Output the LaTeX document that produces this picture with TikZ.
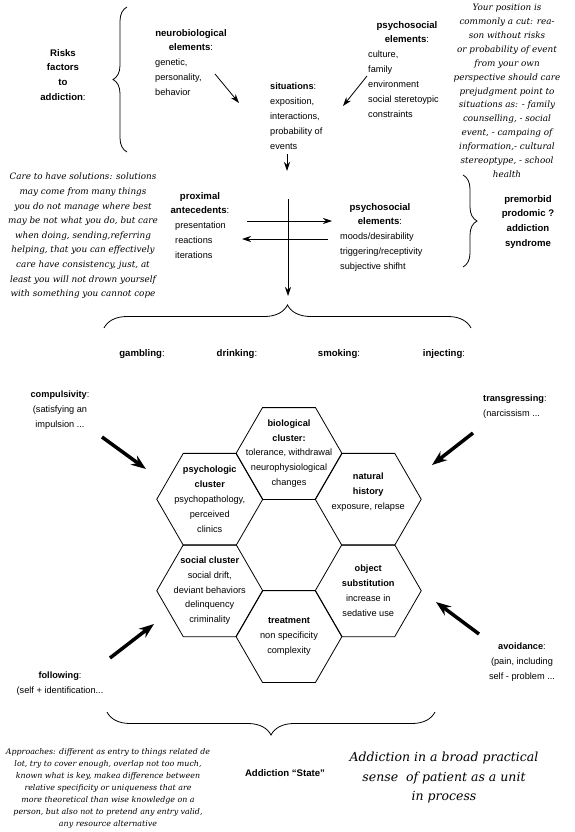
\documentclass[tikz,border=0pt]{standalone}
\usepackage{fontspec}
\setmainfont{Liberation Sans}
\newfontfamily\notefont{DejaVu Serif}
\usetikzlibrary{positioning,calc,arrows.meta,shapes.geometric,decorations.pathreplacing}

\begin{document}
\begin{tikzpicture}[x=1pt,y=-1pt,
  txt/.style={font=\fontsize{9.2}{14.8}\selectfont,inner sep=0pt,align=left},
  ttl/.style={font=\fontsize{9.6}{14.8}\selectfont\bfseries,inner sep=0pt,align=center},
  note/.style={font=\notefont\itshape\fontsize{8.8}{14.6}\selectfont,inner sep=0pt,align=center},
  hexa/.style={draw,regular polygon,regular polygon sides=6,minimum size=106pt,inner sep=0pt,outer sep=0pt,line width=0.8pt},
  arr/.style={-{Stealth[length=9pt,width=6pt]},line width=0.8pt},
  fat/.style={-{Stealth[length=15pt,width=11pt]},line width=3.5pt},
  brc/.style={decorate,decoration={brace,amplitude=#1},line width=0.8pt}]
\path[use as bounding box,fill=white] (0,0) rectangle (574,832);

% risk factors
\node[ttl,anchor=north] (risk) at (63,49) {Risks\\factors\\to\\addiction{\mdseries:}};
\draw[brc=14pt] (127,152) -- (127,7);
\node[ttl,anchor=north] (nbt) at (191,29) {neurobiological\\elements{\mdseries:}};
\node[txt,anchor=north west] (nbl) at (155,59) {genetic,\\personality,\\behavior};
\node[txt,anchor=north west] (sit) at (270,83) {\textbf{situations}:\\exposition,\\interactions,\\probability of\\events};
\node[ttl,anchor=north] (pst) at (407,21) {psychosocial\\elements{\mdseries:}};
\node[txt,anchor=north west] (psl) at (368,51) {culture,\\family\\environment\\social steretoypic\\constraints};
\node[note,anchor=north,font=\notefont\itshape\fontsize{8.8}{13.9}\selectfont] (pos) at (507,4)
  {Your position is\\commonly a cut: rea-\\son without risks\\or probability of event\\from your own\\perspective should care\\prejudgment point to\\situations as: - family\\counselling, - social\\event, - campaing of\\information,- cultural\\stereoptype, - school\\health};
\coordinate (a1s) at (215,74);
\coordinate (a1e) at (239,103);
\coordinate (a2s) at (367,76);
\coordinate (a2e) at (343,106);
\draw[arr] (a1s) -- (a1e);
\draw[arr] (a2s) -- (a2e);
\coordinate (d1s) at (287,154);
\coordinate (d1e) at (287,171);
\draw[arr] (d1s) -- (d1e);

% antecedents
\node[note,anchor=north] (care) at (83,173)
  {Care to have solutions: solutions\\may come from many things\\you do not manage where best\\may be not what you do, but care\\when doing, sending,referring\\helping, that you can effectively\\care have consistency, just, at\\least you will not drown yourself\\with something you cannot cope};
\node[ttl,anchor=north] (prt) at (200,192) {proximal\\antecedents{\mdseries:}};
\node[txt,anchor=north west] (prl) at (175,222) {presentation\\reactions\\iterations};
\node[ttl,anchor=north] (pse) at (380,203) {psychosocial\\elements{\mdseries:}};
\node[txt,anchor=north west] (psel) at (340,233) {moods/desirability\\triggering/receptivity\\subjective shifht};
\node[ttl,anchor=north] (pre) at (528,195) {premorbid\\prodomic ?\\addiction\\syndrome};
\draw[brc=14pt] (463,175) -- (463,267);
\coordinate (vt) at (288,199);
\coordinate (vb) at (288,296);
\coordinate (h1l) at (247,221);
\coordinate (h1r) at (332,221);
\coordinate (h2r) at (328,239);
\coordinate (h2l) at (242,239);
\draw[arr] (vt) -- (vb);
\draw[arr] (h1l) -- (h1r);
\draw[arr] (h2r) -- (h2l);

% kinds of addiction
\draw[brc=23pt] (104,328) -- (471,328);
\foreach \n/\x/\t in {gam/142/gambling,dri/237/drinking,smo/339/smoking,inj/444/injecting}{
  \node[ttl,anchor=base] (\n) at (\x,356) {\t{\mdseries:}};
}

% clusters
\coordinate (hc) at (289,545);
\foreach \n/\a in {bio/-90,nat/-30,obj/30,trt/90,soc/150,psy/-150}{
  \node[hexa] (h\n) at ($(hc)+(\a:91.5)$) {};
}
\node[txt,align=center] (tbio) at (hbio) {\textbf{biological}\\\textbf{cluster:}\\tolerance, withdrawal\\neurophysiological\\changes};
\node[txt,align=center] (tpsy) at (hpsy) {\textbf{psychologic}\\\textbf{cluster}\\psychopathology,\\perceived\\clinics};
\node[txt,align=center] (tnat) at ([yshift=7pt]hnat.center) {\textbf{natural}\\\textbf{history}\\exposure, relapse};
\node[txt,align=center] (tsoc) at (hsoc) {\textbf{social cluster}\\social drift,\\deviant behaviors\\delinquency\\criminality};
\node[txt,align=center] (tobj) at (hobj) {\textbf{object}\\\textbf{substitution}\\increase in\\sedative use};
\node[txt,align=center] (ttrt) at (htrt) {\textbf{treatment}\\non specificity\\complexity};

% ways in
\node[txt,align=center,anchor=north] (comp) at (60,391) {\textbf{compulsivity}:\\(satisfying an\\impulsion ...};
\node[txt,anchor=north west] (trans) at (483,395) {\textbf{transgressing}:\\(narcissism ...};
\node[txt,align=center,anchor=north] (foll) at (60,672) {\textbf{following}:\\(self + identification...};
\node[txt,align=center,anchor=north] (avoid) at (522,643) {\textbf{avoidance}:\\(pain, including\\self - problem ...};
\coordinate (f1s) at (102,437);
\coordinate (f1e) at (146,469);
\coordinate (f2s) at (473,433);
\coordinate (f2e) at (432,465);
\coordinate (f3s) at (110,658);
\coordinate (f3e) at (154,624);
\coordinate (f4s) at (479,634);
\coordinate (f4e) at (436,602);
\foreach \i in {1,...,4}{\draw[fat] (f\i s) -- (f\i e);}

% state
\draw[brc=23pt] (435,712) -- (107,712);
\node[ttl,anchor=base] (state) at (285,776) {Addiction “State”};
\node[note,anchor=north,font=\notefont\itshape\fontsize{7.9}{12}\selectfont] (appr) at (108,748)
  {Approaches: different as entry to things related de\\lot, try to cover enough, overlap not too much,\\known what is key, makea difference between\\relative specificity or uniqueness that are\\more theoretical than wise knowledge on a\\person, but also not to pretend any entry valid,\\any resource alternative};
\node[note,anchor=north,font=\notefont\itshape\fontsize{12.5}{19.5}\selectfont] (big) at (444,752)
  {Addiction in a broad practical\\sense~ of patient as a unit\\in process};
\end{tikzpicture}
\end{document}
